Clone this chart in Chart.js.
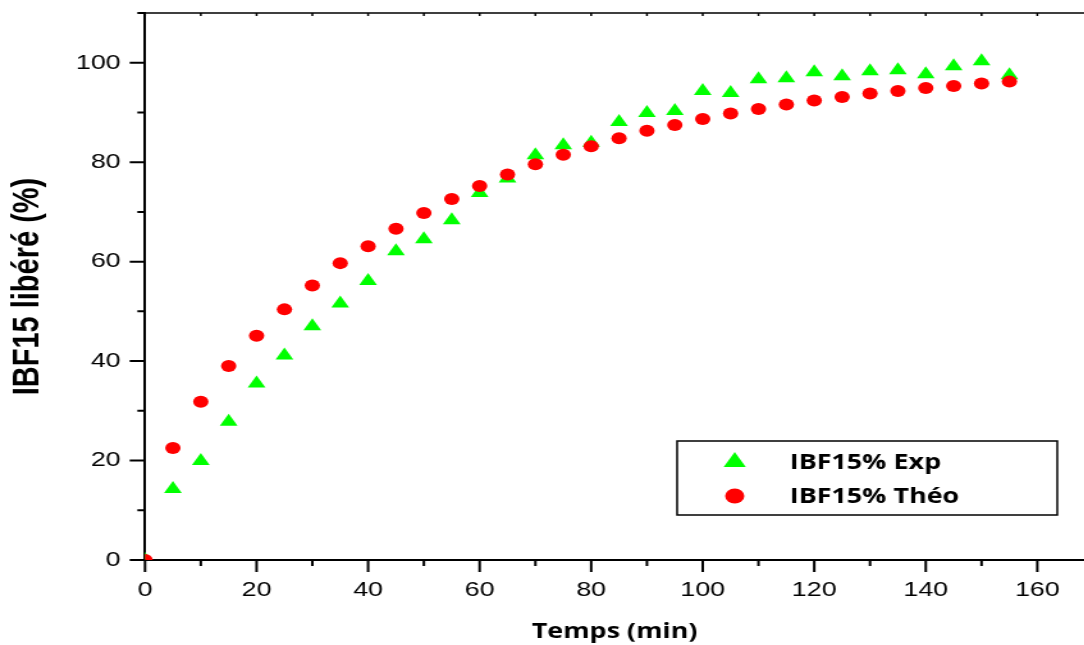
<!DOCTYPE html>
<html>
<head>
<meta charset="utf-8">
<title>IBF15% libéré</title>
<script src="https://cdn.jsdelivr.net/npm/chart.js@4/dist/chart.umd.min.js"></script>
<style>
  html, body { margin: 0; padding: 0; background: #fff; overflow: hidden; }
  /* the original figure is stretched sideways, so draw narrow and widen */
  #wrap { width: 847px; height: 645px; transform: scaleX(1.28); transform-origin: 0 0; }
</style>
</head>
<body>
<div id="wrap"><canvas id="chart" width="847" height="645"></canvas></div>
<script>

const timeMin = [0, 5, 10, 15, 20, 25, 30, 35, 40, 45, 50, 55, 60, 65, 70, 75,
                 80, 85, 90, 95, 100, 105, 110, 115, 120, 125, 130, 135, 140, 145, 150, 155];

const expValues = [0, 14.3, 19.9, 27.8, 35.5, 41.1, 47.0, 51.6, 56.1, 62.1, 64.5, 68.3, 73.8, 76.7, 81.4, 83.4,
                   83.9, 88.1, 89.9, 90.3, 94.3, 93.9, 96.7, 96.9, 98.1, 97.3, 98.3, 98.5, 97.7, 99.3, 100.3, 97.5];

const theoValues = [0, 22.5, 31.8, 39.0, 45.1, 50.4, 55.2, 59.7, 63.1, 66.6, 69.8, 72.6, 75.2, 77.5, 79.6, 81.5,
                    83.2, 84.8, 86.3, 87.5, 88.7, 89.8, 90.7, 91.6, 92.4, 93.1, 93.8, 94.3, 94.9, 95.3, 95.8, 96.2];

const xTickLabels = [0, 20, 40, 60, 80, 100, 120, 140, 160];
const yTickLabels = [0, 20, 40, 60, 80, 100];
const xTickMarks = [0, 10, 20, 30, 40, 50, 60, 70, 80, 90, 100, 110, 120, 130, 140, 150, 160];
const yTickMarks = [0, 10, 20, 30, 40, 50, 60, 70, 80, 90, 100, 110];

function toPoints( xs, ys ) {
    return xs.map( (x, i) => ({ x: x, y: ys[i] }) );
}

// tick marks: long on labelled values, short in between
const axisTicks = {
    id: 'axisTicks',
    afterDraw(chart) {
        const ctx = chart.ctx, a = chart.chartArea;
        const xs = chart.scales.x, ys = chart.scales.y;
        ctx.save();
        ctx.strokeStyle = '#000';
        ctx.lineWidth = 2;
        ctx.beginPath();
        yTickMarks.forEach(v => {
            const p = ys.getPixelForValue(v);
            const len = v % 20 === 0 ? 12 : 6;
            ctx.moveTo(a.left - len, p);
            ctx.lineTo(a.left, p);
        });
        xTickMarks.forEach(v => {
            const p = xs.getPixelForValue(v);
            const len = v % 20 === 0 ? 12 : 6;
            ctx.moveTo(p, a.bottom);
            ctx.lineTo(p, a.bottom + len);
        });
        ctx.stroke();

        // top frame line
        ctx.lineWidth = 1.5;
        ctx.beginPath();
        ctx.moveTo(a.left, a.top);
        ctx.lineTo(a.right, a.top);
        xTickMarks.forEach(v => {
            const p = xs.getPixelForValue(v);
            ctx.moveTo(p, a.top);
            ctx.lineTo(p, a.top + 3);
        });
        ctx.stroke();
        ctx.restore();
    }
};

// boxed legend inside the plot
const boxLegend = {
    id: 'boxLegend',
    afterDraw(chart) {
        const ctx = chart.ctx;
        ctx.save();
        ctx.lineWidth = 1.5;
        ctx.strokeStyle = '#000';
        ctx.strokeRect(529, 441, 297, 74);
        chart.data.datasets.forEach((ds, i) => {
            const y = 462 + i * 34;
            ctx.fillStyle = ds.backgroundColor;
            Chart.helpers.drawPoint(ctx, {
                pointStyle: ds.pointStyle,
                radius: ds.legendRadius,
                rotation: 0,
                borderWidth: 0
            }, 574, y);
            ctx.fillStyle = '#000';
            ctx.font = 'bold 21px "Open Sans"';
            ctx.textBaseline = 'middle';
            ctx.fillText(ds.label, 617, y + 1);
        });
        ctx.restore();
    }
};

const ctx = document.getElementById('chart').getContext('2d');

chart = new Chart(ctx, {
    type: 'scatter',
    data: {
        datasets: [{
            label: 'IBF15% Exp',
            data: toPoints( timeMin, expValues ),
            pointStyle: 'triangle',
            pointRadius: 8,
            legendRadius: 10,
            backgroundColor: '#00ff00',
            borderColor: '#00ff00',
            borderWidth: 0,
            clip: 0,
            order: 2
        }, {
            label: 'IBF15% Théo',
            data: toPoints( timeMin, theoValues ),
            pointStyle: 'circle',
            pointRadius: 6,
            legendRadius: 7.5,
            backgroundColor: '#ff0000',
            borderColor: '#ff0000',
            borderWidth: 0,
            clip: 0,
            order: 1
        }]
    },
    options: {
        responsive: false,
        animation: false,
        layout: {
            autoPadding: false,
            padding: { top: 13, right: 0, bottom: 0, left: 0 }
        },
        plugins: {
            legend: { display: false },
            tooltip: { enabled: false }
        },
        scales: {
            x: {
                type: 'linear',
                min: 0,
                max: 168.4,
                afterBuildTicks: s => { s.ticks = xTickLabels.map(v => ({ value: v })); },
                afterFit: s => { s.height = 85; s.paddingLeft = 0; s.paddingRight = 0; },
                grid: { display: true, drawOnChartArea: false, drawTicks: false },
                border: { display: true, color: '#000', width: 2 },
                ticks: {
                    color: '#000',
                    padding: 18,
                    maxRotation: 0,
                    font: { family: '"Liberation Sans", Arial, sans-serif', size: 21 }
                },
                title: {
                    display: true,
                    text: 'Temps (min)',
                    color: '#000',
                    padding: { top: 9, bottom: 0 },
                    font: { family: '"Open Sans", sans-serif', size: 21, weight: 'bold' }
                }
            },
            y: {
                type: 'linear',
                min: 0,
                max: 110,
                afterBuildTicks: s => { s.ticks = yTickLabels.map(v => ({ value: v })); },
                afterFit: s => { s.width = 113.3; s.paddingTop = 0; s.paddingBottom = 0; },
                grid: { display: true, drawOnChartArea: false, drawTicks: false },
                border: { display: true, color: '#000', width: 2 },
                ticks: {
                    color: '#000',
                    padding: 19,
                    font: { family: '"Liberation Sans", Arial, sans-serif', size: 21 }
                },
                title: {
                    display: true,
                    text: 'IBF15 libéré (%)',
                    color: '#000',
                    padding: { top: 5, bottom: 0 },
                    font: { family: '"Liberation Sans", Arial, sans-serif', size: 29, weight: 'bold' }
                }
            }
        }
    },
    plugins: [ axisTicks, boxLegend ]
});
</script>
</body>
</html>
